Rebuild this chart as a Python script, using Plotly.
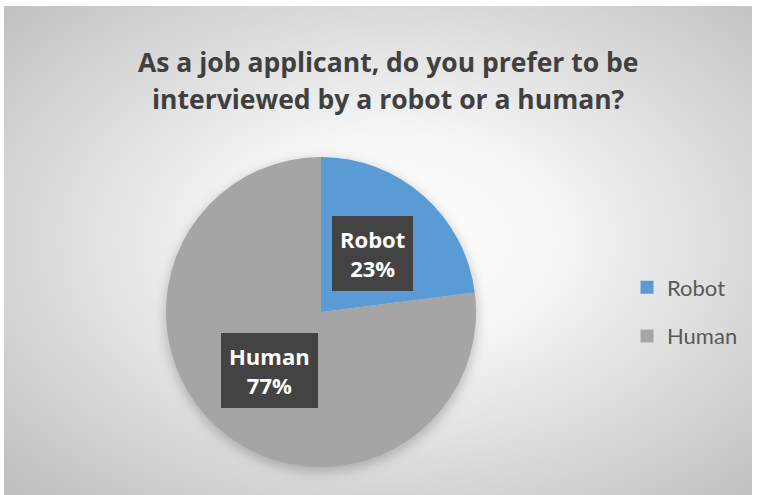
import base64, math
import plotly.graph_objects as go

# ---- data ----
categories = ["Robot", "Human"]
values = [23, 77]
colors = ["#5B9BD5", "#A5A5A5"]
title_lines = ["As a job applicant, do you prefer to be", "interviewed by a robot or a human?"]

W, H = 757, 495
# frame (chart area) in pixels
FX0, FY0, FX1, FY1 = 4, 6, 752, 495
# pie placement in pixels
PCX, PCY, PR = 321, 312, 155

dom_x = [(PCX - PR) / W, (PCX + PR) / W]
dom_y = [(H - PCY - PR) / H, (H - PCY + PR) / H]

fig = go.Figure()
fig.add_trace(go.Pie(
    labels=categories, values=values, sort=False, direction="clockwise", rotation=0,
    marker=dict(colors=colors, line=dict(width=0)),
    textinfo="none", hoverinfo="label+percent", showlegend=False,
    domain=dict(x=dom_x, y=dom_y),
))

# legend entries (square swatches)
for c, col in zip(categories, colors):
    fig.add_trace(go.Scatter(
        x=[None], y=[None], mode="markers", name=c, legendgroup=c,
        marker=dict(symbol="square", size=13, color=col),
    ))

# data labels in dark boxes, placed at half radius along slice mid-angle
total = sum(values)
cum = 0
annotations = []
for c, v in zip(categories, values):
    mid = (cum + v / 2) / total
    cum += v
    th = math.radians(90 - 360 * mid)
    px = PCX + 0.5 * PR * math.cos(th)
    py = PCY - 0.5 * PR * math.sin(th)
    txt = f"<b>{c}</b><br><b>{round(100 * v / total)}%</b>"
    annotations.append(dict(
        text=txt, xref="paper", yref="paper", x=px / W, y=1 - py / H,
        xanchor="center", yanchor="middle", showarrow=False, align="center",
        borderpad=8, borderwidth=0, bgcolor="#434343",
        font=dict(family="Open Sans", size=22, color="#ffffff"),
    ))

# title (one annotation per line for Excel-like line spacing)
for i, line in enumerate(title_lines):
    annotations.append(dict(
        text=f"<b>{line}</b>", xref="paper", yref="paper",
        x=388 / W, y=1 - (62 + 37 * i) / H, xanchor="center", yanchor="middle",
        showarrow=False, font=dict(family="Open Sans", size=26.5, color="#404040"),
    ))

# background gradient + pie shadow
fw, fh = FX1 - FX0, FY1 - FY0
svg = f'''<svg xmlns="http://www.w3.org/2000/svg" width="{fw}" height="{fh}" viewBox="0 0 {fw} {fh}">
<defs><radialGradient id="g" cx="0.52" cy="0.48" r="0.72">
<stop offset="0" stop-color="#ffffff"/><stop offset="0.3" stop-color="#f6f6f6"/><stop offset="1" stop-color="#bfbfbf"/>
</radialGradient>
<filter id="b" x="-30%" y="-30%" width="160%" height="160%"><feGaussianBlur stdDeviation="6"/></filter></defs>
<rect width="{fw}" height="{fh}" fill="url(#g)"/>
<circle cx="{PCX - FX0}" cy="{PCY - FY0 + 4}" r="{PR + 1}" fill="#000" fill-opacity="0.22" filter="url(#b)"/>
</svg>'''
src = "data:image/svg+xml;base64," + base64.b64encode(svg.encode()).decode()

fig.update_layout(
    width=W, height=H, margin=dict(l=0, r=0, t=0, b=0),
    paper_bgcolor="#ffffff", plot_bgcolor="rgba(0,0,0,0)",
    xaxis=dict(visible=False), yaxis=dict(visible=False),
    images=[dict(source=src, xref="paper", yref="paper", x=FX0 / W, y=1 - FY0 / H,
                 sizex=fw / W, sizey=fh / H, xanchor="left", yanchor="top",
                 sizing="stretch", layer="below")],
    annotations=annotations,
    legend=dict(x=627 / W, y=1 - 312 / H, xanchor="left", yanchor="middle",
                font=dict(family="Lato", size=22, color="#595959"),
                tracegroupgap=17, bgcolor="rgba(0,0,0,0)", itemsizing="trace"),
    showlegend=True,
)

fig.write_html("out.html")
